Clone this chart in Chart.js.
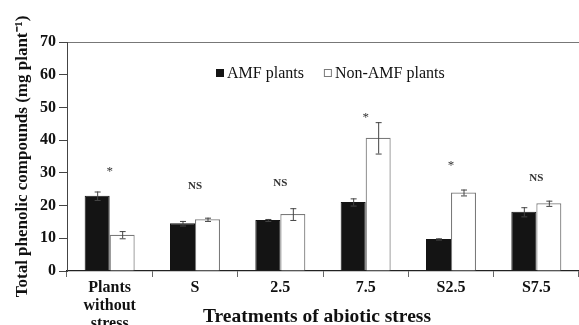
<!DOCTYPE html>
<html>
<head>
<meta charset="utf-8">
<script src="https://cdn.jsdelivr.net/npm/chart.js@4"></script>
<style>
  body { margin: 0; background: #fff; }
  #wrap { width: 579px; height: 325px; position: relative; }
</style>
</head>
<body>
<div id="wrap"><canvas id="phenolChart" width="579" height="325"></canvas></div>
<script>
// Data
const categories = [['Plants', 'without', 'stress'], 'S', '2.5', '7.5', 'S2.5', 'S7.5'];
const amfValues = [23.0, 14.6, 15.6, 21.1, 9.8, 18.1];
const amfErrors = [1.3, 0.7, 0.3, 1.1, 0.2, 1.4];
const nonAmfValues = [11.1, 15.8, 17.4, 40.7, 24.0, 20.7];
const nonAmfErrors = [1.1, 0.5, 1.8, 4.8, 0.9, 0.8];
const significance = ['*', 'NS', 'NS', '*', '*', 'NS'];
const significanceY = [30.9, 26.0, 26.9, 47.4, 32.7, 28.4];

const serif = '"Liberation Serif", "Times New Roman", serif';

// error bars + significance marks
const errorBarPlugin = {
    id: 'errorBars',
    afterDatasetsDraw(chart) {
        const c = chart.ctx;
        const yScale = chart.scales.y;
        chart.data.datasets.forEach((ds, i) => {
            const meta = chart.getDatasetMeta(i);
            meta.data.forEach((bar, j) => {
                const v = ds.data[j];
                const e = ds.errors[j];
                const yTop = yScale.getPixelForValue(v + e);
                const yBot = yScale.getPixelForValue(v - e);
                c.save();
                c.strokeStyle = '#444';
                c.lineWidth = 1;
                c.beginPath();
                c.moveTo(bar.x + 0.5, yTop);
                c.lineTo(bar.x + 0.5, yBot);
                c.moveTo(bar.x - 2.5, yTop + 0.5);
                c.lineTo(bar.x + 3.5, yTop + 0.5);
                c.moveTo(bar.x - 2.5, yBot + 0.5);
                c.lineTo(bar.x + 3.5, yBot + 0.5);
                c.stroke();
                c.restore();
            });
        });
        // significance labels centred over each group
        const xScale = chart.scales.x;
        c.save();
        c.fillStyle = '#333';
        c.textAlign = 'center';
        c.textBaseline = 'middle';
        significance.forEach((s, j) => {
            const x = xScale.getPixelForValue(j);
            const y = yScale.getPixelForValue(significanceY[j]);
            c.font = s === '*' ? '13px ' + serif : 'bold 11px ' + serif;
            c.fillText(s, x, y + (s === '*' ? 2 : 0));
        });
        c.restore();
    }
};

// legend inside the plot and x axis title over the label area
const extrasPlugin = {
    id: 'extras',
    afterDraw(chart) {
        const c = chart.ctx;
        const area = chart.chartArea;
        c.save();
        c.font = '16px ' + serif;
        c.textBaseline = 'middle';
        let x = area.left + 149;
        const y = area.top + 31;
        chart.data.datasets.forEach(ds => {
            c.fillStyle = ds.backgroundColor;
            c.fillRect(x, y - 4, 8, 8);
            c.strokeStyle = ds.borderColor;
            c.lineWidth = 1;
            c.strokeRect(x + 0.5, y - 3.5, 7, 7);
            c.fillStyle = '#111';
            c.textAlign = 'left';
            c.fillText(ds.label, x + 11, y + 1);
            x += 11 + c.measureText(ds.label).width + 20;
        });
        c.font = 'bold 19.5px ' + serif;
        c.textAlign = 'center';
        c.fillStyle = '#111';
        c.fillText('Treatments of abiotic stress', (area.left + area.right) / 2 - 6, area.bottom + 46);
        c.restore();
    }
};

const ctx = document.getElementById('phenolChart').getContext('2d');
const phenolChart = new Chart(ctx, {
    type: 'bar',
    data: {
        labels: categories,
        datasets: [{
            label: 'AMF plants',
            data: amfValues,
            errors: amfErrors,
            backgroundColor: '#141414',
            borderColor: '#141414',
            borderWidth: 1
        }, {
            label: 'Non-AMF plants',
            data: nonAmfValues,
            errors: nonAmfErrors,
            backgroundColor: '#ffffff',
            borderColor: '#7a7a7a',
            borderWidth: 1.2
        }]
    },
    options: {
        responsive: false,
        animation: false,
        layout: { padding: { top: 42, right: 0, left: 0, bottom: 0 } },
        datasets: { bar: { categoryPercentage: 0.586, barPercentage: 1.0 } },
        plugins: {
            legend: { display: false },
            tooltip: { enabled: false }
        },
        scales: {
            x: {
                afterFit: scale => { scale.height = 54; },
                grid: {
                    display: true,
                    drawOnChartArea: false,
                    tickLength: 6,
                    color: '#666'
                },
                border: { color: '#222', width: 1.3 },
                ticks: {
                    color: '#111',
                    padding: 2,
                    maxRotation: 0,
                    autoSkip: false,
                    font: { family: serif, size: 16, weight: 'bold', lineHeight: 1.12 }
                }
            },
            y: {
                min: 0,
                max: 70,
                afterFit: scale => { scale.width = 67; },
                ticks: {
                    stepSize: 10,
                    color: '#111',
                    padding: 3,
                    font: { family: serif, size: 16, weight: 'bold' }
                },
                grid: {
                    drawOnChartArea: true,
                    tickLength: 8,
                    color: c => c.tick && c.tick.value === 70 ? '#777' : 'rgba(0,0,0,0)',
                    tickColor: '#444'
                },
                border: { color: '#444', width: 1 },
                title: {
                    display: true,
                    text: 'Total phenolic compounds (mg plant\u207B\u00B9)',
                    color: '#111',
                    padding: { top: 12, bottom: 0 },
                    font: { family: serif, size: 17, weight: 'bold' }
                }
            }
        }
    },
    plugins: [errorBarPlugin, extrasPlugin]
});
</script>
</body>
</html>
